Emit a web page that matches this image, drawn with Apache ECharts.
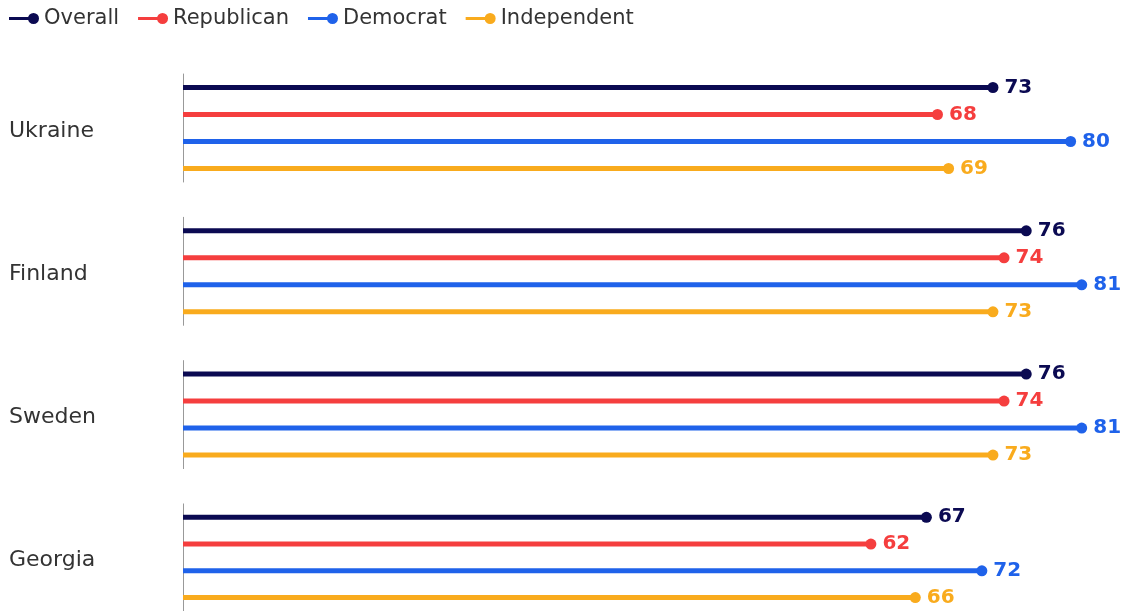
<!DOCTYPE html>
<html>
<head>
<meta charset="utf-8">
<script src="https://cdn.jsdelivr.net/npm/echarts@6/dist/echarts.min.js"></script>
<style>
  html, body { margin: 0; padding: 0; background: #fff; }
  #chart { width: 1126px; height: 611px; }
</style>
</head>
<body>
<div id="chart"></div>
<script>
// data
var countries = ['Ukraine', 'Finland', 'Sweden', 'Georgia'];
var parties = ['Overall', 'Republican', 'Democrat', 'Independent'];
var overall = [73, 76, 76, 67];
var republican = [68, 74, 74, 62];
var democrat = [80, 81, 81, 72];
var independent = [69, 73, 73, 66];
var partyValues = [overall, republican, democrat, independent];
var partyColors = ['#0b0a52', '#f53e3e', '#1f62ea', '#f9ab1d'];

var font = '"DejaVu Sans", sans-serif';
var myChart = echarts.init(document.getElementById('chart'));

var grids = [], xAxes = [], yAxes = [], series = [];
countries.forEach(function (country, g) {
    grids.push({ left: 183, right: 11, top: 74 + g * 143.3, height: 108 });
    xAxes.push({
        type: 'value', gridIndex: g, min: 0, max: 84, show: false
    });
    // rows for the four parties
    yAxes.push({
        type: 'category', gridIndex: g, data: parties, inverse: true,
        axisLine: { show: false }, axisTick: { show: false }, axisLabel: { show: false }
    });
    // country label + the vertical line
    yAxes.push({
        type: 'category', gridIndex: g, data: [country], position: 'left',
        axisLine: { show: true, lineStyle: { color: '#999', width: 1 } },
        axisTick: { show: false },
        axisLabel: {
            margin: 174, align: 'left',
            formatter: '{c|{value}}',
            rich: {
                c: { fontSize: 22, color: '#333', fontFamily: font, padding: [6, 0, 0, 0] }
            }
        }
    });
    parties.forEach(function (p, i) {
        var v = partyValues[i][g];
        var row = parties.map(function (q, j) { return j === i ? v : '-'; });
        series.push({
            name: p, type: 'bar', xAxisIndex: g, yAxisIndex: g * 2,
            data: row, barWidth: 5, barGap: '-100%',
            itemStyle: { color: partyColors[i] }, silent: true
        });
        series.push({
            name: p, type: 'scatter', xAxisIndex: g, yAxisIndex: g * 2,
            data: [[v, i]], symbolSize: 11,
            itemStyle: { color: partyColors[i], opacity: 1 },
            label: {
                show: true, position: 'right', distance: 6,
                formatter: function (d) { return d.value[0]; },
                color: partyColors[i], fontSize: 20, fontWeight: 'bold', fontFamily: font
            }
        });
    });
});

var option = {
    animation: false,
    backgroundColor: '#fff',
    legend: {
        data: parties,
        left: 4, top: 3,
        itemWidth: 30, itemHeight: 11, itemGap: 19,
        icon: 'path://M0,4L20,4L20,7L0,7Z M30,5.5A5.5,5.5,0,1,1,19,5.5A5.5,5.5,0,1,1,30,5.5Z',
        textStyle: { fontSize: 21, color: '#333', fontFamily: font }
    },
    grid: grids,
    xAxis: xAxes,
    yAxis: yAxes,
    series: series
};
myChart.setOption(option);
</script>
</body>
</html>
